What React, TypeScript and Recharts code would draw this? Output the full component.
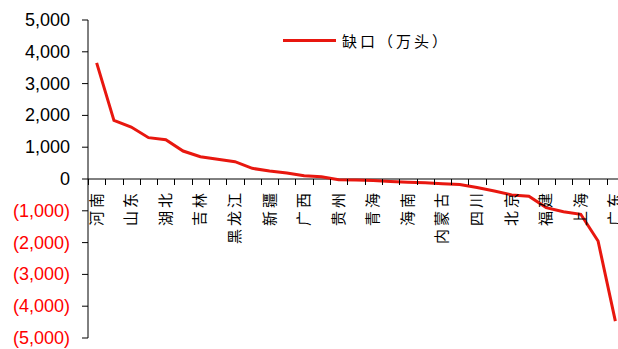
import React from 'react';
import { LineChart, Line, XAxis, YAxis, ReferenceLine } from 'recharts';

// 31 provinces, sorted by supply gap (万头)
const provinces = [
  '河南', '湖南', '山东', '河北', '湖北', '辽宁', '吉林', '云南', '黑龙江', '江西',
  '新疆', '安徽', '广西', '甘肃', '贵州', '宁夏', '青海', '西藏', '海南', '山西',
  '内蒙古', '天津', '四川', '陕西', '北京', '重庆', '福建', '江苏', '上海', '浙江', '广东',
];
const gap = [
  3650, 1845, 1635, 1300, 1235, 880, 700, 620, 545, 335,
  250, 190, 100, 70, -20, -30, -50, -80, -100, -120,
  -150, -170, -270, -380, -500, -540, -900, -1030, -1110, -1950, -4470,
];
const yTicks = [5000, 4000, 3000, 2000, 1000, 0, -1000, -2000, -3000, -4000, -5000];

const data = provinces.map((name, i) => ({ name, gap: gap[i] }));

const W = 624;
const H = 349;
const TOP = 20;
const BOTTOM = 10;
const LEFT = 88;
const plotW = W - LEFT;
const plotH = H - TOP - BOTTOM - 1;
const band = plotW / provinces.length;
const zeroY = TOP + plotH / 2;

const fmt = (v: number) => {
  const s = Math.abs(v).toLocaleString('en-US');
  return v < 0 ? `(${s})` : s;
};

const YTick = (props: any) => {
  const { x, y, payload } = props;
  const v = payload.value as number;
  return (
    <text x={x} y={y} dy={6} textAnchor="end" fontSize={18}
      fontFamily="'Liberation Sans', Arial, sans-serif" fill={v < 0 ? '#ff0000' : '#000'}>
      {fmt(v)}
    </text>
  );
};

const XTick = (props: any) => {
  const { x, payload, index } = props;
  const tx = Math.round(x - band / 2) + 0.5;
  const ty = zeroY + 11;
  return (
    <g>
      <line x1={tx} y1={zeroY} x2={tx} y2={zeroY + 6} stroke="#000" strokeWidth={1} />
      {index % 2 === 0 && (
        <text
          x={x}
          y={ty}
          transform={`rotate(-90 ${x} ${ty})`}
          textAnchor="end"
          dy={5}
          fontSize={15}
          letterSpacing={3}
          fontFamily="'Noto Sans CJK SC', sans-serif"
          fill="#000"
        >
          {payload.value}
        </text>
      )}
    </g>
  );
};

const LegendBox = () => (
  <div style={{ position: 'absolute', left: 283, top: 30, display: 'flex', alignItems: 'center' }}>
    <div style={{ width: 53, height: 3, background: '#e8170f' }} />
    <span style={{ marginLeft: 6, fontSize: 15, letterSpacing: 3, fontFamily: "'Noto Sans CJK SC', sans-serif", color: '#000' }}>
      缺口（万头）
    </span>
  </div>
);

export default function App() {
  return (
    <div style={{ position: 'absolute', left: 0, top: 0, width: 618, height: 349, overflow: 'hidden', background: '#fff' }}>
      <LineChart width={W} height={H} data={data} margin={{ top: TOP, right: 0, bottom: BOTTOM, left: 0 }}>
        <XAxis
          dataKey="name"
          interval={0}
          axisLine={false}
          tickLine={false}
          height={1}
          padding={{ left: band / 2, right: band / 2 }}
          tick={<XTick />}
        />
        <YAxis
          width={LEFT}
          domain={[-5000, 5000]}
          ticks={yTicks}
          interval={0}
          tickSize={6}
          tickMargin={12}
          stroke="#000"
          tick={<YTick />}
        />
        <ReferenceLine y={0} stroke="#000" strokeWidth={1} />
        <Line
          type="linear"
          dataKey="gap"
          stroke="#e8170f"
          strokeWidth={3}
          dot={false}
          isAnimationActive={false}
        />
      </LineChart>
      <LegendBox />
    </div>
  );
}
